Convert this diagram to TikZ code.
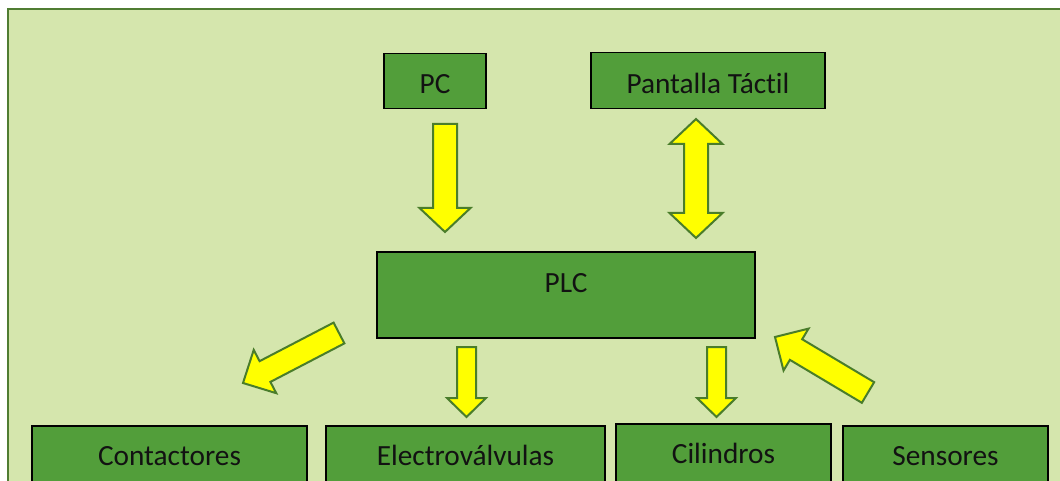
\documentclass[tikz,border=0pt]{standalone}
\usepackage{fontspec}
\setmainfont{Carlito}[Ligatures=NoCommon]
\usetikzlibrary{calc}
\definecolor{bg}{RGB}{213,230,173}
\definecolor{boxg}{RGB}{82,158,58}
\definecolor{frameg}{RGB}{80,125,50}
\definecolor{arrline}{RGB}{74,125,43}
\definecolor{arryel}{RGB}{255,255,0}
\tikzset{
  box/.style={draw=black, line width=1.5pt, fill=boxg, inner sep=0pt, anchor=north,
    font=\fontsize{29.3}{32}\selectfont, text=black!93},
  yarrow/.style={draw=arrline, fill=arryel, line width=2pt, line join=miter}
}
\newcommand\blockarr[5]{%
  \coordinate (ba-t) at #1; \coordinate (ba-p) at #2;
  \coordinate (ba-h) at ($(ba-p)!#5!(ba-t)$);
  \draw[yarrow] ($(ba-t)!#3!90:(ba-p)$) -- ($(ba-h)!#3!90:(ba-p)$) -- ($(ba-h)!#4!90:(ba-p)$)
    -- (ba-p) -- ($(ba-h)!#4!-90:(ba-p)$) -- ($(ba-h)!#3!-90:(ba-p)$) -- ($(ba-t)!#3!-90:(ba-p)$) -- cycle;}
\begin{document}
\begin{tikzpicture}[x=1pt, y=-1pt]
\useasboundingbox (0,0) rectangle (1060,481);
\clip (0,0) rectangle (1060,481);
\fill[white] (0,0) rectangle (1060,481);
\draw[frameg, line width=2.5pt, fill=bg] (8,9) rectangle (1080,510);
% boxes
\node[box, minimum width=102pt, text height=39.5pt, text depth=15.5pt] (pc) at (435,53) {PC};
\node[box, minimum width=234pt, text height=40.5pt, text depth=15.5pt] (pt) at (708,52) {Pantalla Táctil};
\node[box, minimum width=378pt, text height=40.5pt, text depth=45.5pt] (plc) at (566,251) {PLC};
\node[box, minimum width=275pt, text height=39.5pt, text depth=30pt] (con) at (169.5,425) {Contactores};
\node[box, minimum width=279pt, text height=39.5pt, text depth=30pt] (ele) at (465.5,425) {Electroválvulas};
\node[box, minimum width=215pt, text height=39.5pt, text depth=32pt] (cil) at (723.5,423) {Cilindros};
\node[box, minimum width=205pt, text height=39.5pt, text depth=30pt] (sen) at (945.5,425) {Sensores};
% arrows
\blockarr{(445,124)}{(445,232)}{12pt}{25.5pt}{24pt}
\draw[yarrow] (696,119) -- (722.5,144) -- (708,144) -- (708,213) -- (722.5,213) -- (696,238)
  -- (669.5,213) -- (684,213) -- (684,144) -- (669.5,144) -- cycle;
\blockarr{(339,333)}{(243,383)}{11.7pt}{24.4pt}{24.8pt}
\blockarr{(466.5,347)}{(466.5,417)}{9.5pt}{19.5pt}{19pt}
\blockarr{(716.5,347)}{(716.5,417)}{9.5pt}{19.5pt}{19pt}
\blockarr{(868,392.5)}{(775,337)}{12pt}{24.4pt}{24.5pt}
\end{tikzpicture}
\end{document}
